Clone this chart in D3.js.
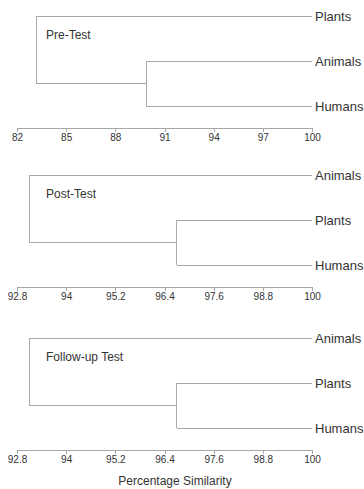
<!DOCTYPE html>
<html>
<head>
<meta charset="utf-8">
<script src="https://cdn.jsdelivr.net/npm/d3@7"></script>
<style>
  body { margin: 0; background: #fff; }
  text { font-family: "Liberation Sans", Arial, sans-serif; fill: #333; }
</style>
</head>
<body>
<div id="chart"></div>
<script>
// panel names
var panels = ["Pre-Test", "Post-Test", "Follow-up Test"]
// leaf order, top to bottom
var leaves = [
  ["Plants", "Animals", "Humans"],
  ["Animals", "Plants", "Humans"],
  ["Animals", "Plants", "Humans"]
]
// similarity where the two lower leaves join, then where the root joins
var innerJoin = [89.9, 96.7, 96.7]
var rootJoin = [83.2, 93.1, 93.1]
// axis domains and ticks
var domains = [[82, 100], [92.8, 100], [92.8, 100]]
var tickLabels = [
  [82, 85, 88, 91, 94, 97, 100],
  [92.8, 94, 95.2, 96.4, 97.6, 98.8, 100],
  [92.8, 94, 95.2, 96.4, 97.6, 98.8, 100]
]

var width = 364, height = 489
var tops = [16, 175, 338]
var lineColor = "#a8a8a8"

var svg = d3.select("#chart").append("svg")
  .attr("width", width)
  .attr("height", height)

panels.forEach(function(name, i) {
  var g = svg.append("g")

  var x = d3.scaleLinear()
    .domain(domains[i])
    .range([17, 312])

  var y = d3.scalePoint()
    .domain(leaves[i])
    .range([tops[i], tops[i] + 90])

  var first = leaves[i][0], second = leaves[i][1], third = leaves[i][2]
  var innerY = (y(second) + y(third)) / 2

  // leaf lines
  g.append("line")
    .attr("x1", x(rootJoin[i])).attr("x2", x(domains[i][1]))
    .attr("y1", y(first)).attr("y2", y(first))
  g.append("line")
    .attr("x1", x(innerJoin[i])).attr("x2", x(domains[i][1]))
    .attr("y1", y(second)).attr("y2", y(second))
  g.append("line")
    .attr("x1", x(innerJoin[i])).attr("x2", x(domains[i][1]))
    .attr("y1", y(third)).attr("y2", y(third))
  // inner cluster vertical
  g.append("line")
    .attr("x1", x(innerJoin[i])).attr("x2", x(innerJoin[i]))
    .attr("y1", y(second)).attr("y2", y(third))
  // root vertical and connection
  g.append("line")
    .attr("x1", x(rootJoin[i])).attr("x2", x(rootJoin[i]))
    .attr("y1", y(first)).attr("y2", innerY)
  g.append("line")
    .attr("x1", x(rootJoin[i])).attr("x2", x(innerJoin[i]))
    .attr("y1", innerY).attr("y2", innerY)

  g.selectAll("line")
    .attr("stroke", lineColor)
    .attr("stroke-width", 1)
    .attr("shape-rendering", "crispEdges")

  // leaf labels
  g.selectAll(".leaf")
    .data(leaves[i])
    .enter()
    .append("text")
    .attr("class", "leaf")
    .attr("x", x(domains[i][1]) + 3)
    .attr("y", d => y(d))
    .attr("dy", "0.35em")
    .style("font-size", "13px")
    .text(d => d)

  // panel title
  g.append("text")
    .attr("x", 46)
    .attr("y", tops[i] + 19)
    .attr("dy", "0.35em")
    .style("font-size", "12px")
    .text(name)

  // axis
  var axis = g.append("g")
    .attr("transform", "translate(0," + (tops[i] + 112) + ")")
    .call(d3.axisBottom(x).tickValues(tickLabels[i]).tickSize(4).tickSizeOuter(0).tickFormat(d => d))
  axis.select(".domain").attr("stroke", lineColor).attr("shape-rendering", "crispEdges")
  axis.selectAll(".tick line").attr("stroke", lineColor).attr("shape-rendering", "crispEdges")
  axis.selectAll(".tick text")
    .attr("y", 6)
    .style("font-size", "10px")
    .style("font-family", "'Liberation Sans', Arial, sans-serif")
    .style("fill", "#333")
})

svg.append("text")
  .attr("x", 175)
  .attr("y", 481)
  .attr("dy", "0.35em")
  .attr("text-anchor", "middle")
  .style("font-size", "12px")
  .text("Percentage Similarity")
</script>
</body>
</html>
